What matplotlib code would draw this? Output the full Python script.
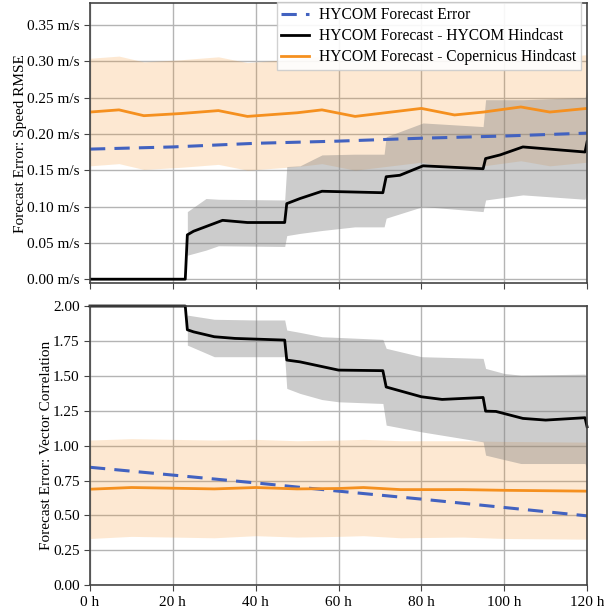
import matplotlib
matplotlib.use('Agg')
import matplotlib.pyplot as plt

plt.rcParams['font.family'] = ['Liberation Serif', 'DejaVu Serif']
plt.rcParams['font.size'] = 11

# ---- top panel: speed RMSE ----
hours_blue = [0, 20, 40, 60, 80, 100, 120]
rmse_blue = [0.179, 0.182, 0.187, 0.190, 0.194, 0.197, 0.201]

hours_black_rmse = [0, 23, 23.5, 25, 32, 38, 47, 47.5, 50.7, 56, 70.7, 71.5, 74.8, 80.4, 94.9, 95.5, 99, 104.5, 119.5, 120]
rmse_black = [0, 0, 0.061, 0.066, 0.081, 0.078, 0.078, 0.104, 0.111, 0.121, 0.119, 0.141, 0.143, 0.156, 0.152, 0.166, 0.171, 0.182, 0.175, 0.189]

hours_gray_rmse = [23.5, 28, 31, 47, 47.5, 50.7, 56, 63.9, 71, 71.5, 80.4, 94.9, 95.5, 104.5, 119.5, 120]
rmse_gray_hi = [0.093, 0.111, 0.110, 0.109, 0.155, 0.156, 0.171, 0.172, 0.172, 0.196, 0.215, 0.210, 0.247, 0.247, 0.250, 0.260]
rmse_gray_lo = [0.033, 0.040, 0.046, 0.045, 0.060, 0.063, 0.067, 0.072, 0.072, 0.084, 0.100, 0.093, 0.109, 0.116, 0.110, 0.120]

hours_orange_rmse = [0, 7, 13, 22, 31, 38, 50, 56, 64, 80, 88, 95, 104, 111, 120]
rmse_orange = [0.230, 0.233, 0.225, 0.228, 0.232, 0.224, 0.229, 0.233, 0.224, 0.235, 0.226, 0.230, 0.237, 0.230, 0.235]
rmse_orange_hi = [0.304, 0.307, 0.299, 0.302, 0.306, 0.298, 0.303, 0.307, 0.298, 0.309, 0.300, 0.304, 0.311, 0.304, 0.309]
rmse_orange_lo = [0.156, 0.159, 0.151, 0.154, 0.158, 0.150, 0.155, 0.159, 0.150, 0.161, 0.152, 0.156, 0.163, 0.156, 0.161]

# ---- bottom panel: vector correlation ----
vc_blue = [0.845, 0.789, 0.733, 0.674, 0.617, 0.557, 0.497]

hours_black_vc = [0, 23, 23.5, 25, 30, 35, 47, 47.5, 50.7, 60, 70.7, 71.5, 80, 85, 94.9, 95.5, 98, 104.5, 110, 119.5, 120]
vc_black = [2.0, 2.0, 1.83, 1.815, 1.78, 1.768, 1.756, 1.613, 1.60, 1.541, 1.537, 1.42, 1.35, 1.331, 1.345, 1.247, 1.245, 1.195, 1.183, 1.20, 1.135]

hours_gray_vc = [23.5, 30, 40, 47, 47.5, 50.7, 56, 60, 70.7, 71.5, 80, 94.9, 95.5, 100, 104, 119.5, 120]
vc_gray_hi = [1.935, 1.905, 1.90, 1.90, 1.828, 1.811, 1.78, 1.775, 1.761, 1.697, 1.637, 1.625, 1.553, 1.517, 1.505, 1.512, 1.48]
vc_gray_lo = [1.72, 1.637, 1.637, 1.637, 1.41, 1.374, 1.33, 1.314, 1.302, 1.147, 1.099, 1.027, 0.932, 0.90, 0.872, 0.872, 0.824]

hours_orange_vc = [0, 10, 20, 30, 40, 50, 60, 66, 75, 90, 100, 120]
vc_orange = [0.688, 0.700, 0.695, 0.690, 0.700, 0.690, 0.693, 0.700, 0.685, 0.685, 0.680, 0.674]
vc_orange_hi = [1.040, 1.050, 1.045, 1.040, 1.045, 1.035, 1.040, 1.045, 1.035, 1.035, 1.030, 1.025]
vc_orange_lo = [0.335, 0.350, 0.345, 0.340, 0.355, 0.345, 0.350, 0.355, 0.340, 0.345, 0.335, 0.330]

x_ticks = [0, 20, 40, 60, 80, 100, 120]
x_labels = ['0 h', '20 h', '40 h', '60 h', '80 h', '100 h', '120 h']
rmse_ticks = [0.0, 0.05, 0.10, 0.15, 0.20, 0.25, 0.30, 0.35]
vc_ticks = [0.0, 0.25, 0.5, 0.75, 1.0, 1.25, 1.5, 1.75, 2.0]

c_blue = '#4262c0'
c_orange = '#f5901f'
c_black = '#000000'

fig = plt.figure(figsize=(6.04, 6.09), dpi=100)
ax1 = fig.add_axes([0.149, 0.535, 0.823, 0.460])
ax2 = fig.add_axes([0.149, 0.039, 0.823, 0.4585])

def style_axis(ax):
    ax.set_xlim(0, 120)
    ax.set_xticks(x_ticks)
    ax.grid(True, color='#b4b4b4', linewidth=1.0)
    ax.set_axisbelow(True)
    for s in ax.spines.values():
        s.set_color('#444444')
        s.set_linewidth(1.2)
    ax.tick_params(direction='out', length=4, color='#444444', labelsize=11)

# top
ax1.fill_between(hours_orange_rmse, rmse_orange_lo, rmse_orange_hi, color=c_orange, alpha=0.2, linewidth=0)
ax1.fill_between(hours_gray_rmse, rmse_gray_lo, rmse_gray_hi, color='gray', alpha=0.4, linewidth=0)
ax1.plot(hours_blue, rmse_blue, color=c_blue, linestyle='--', dashes=(5, 3), linewidth=2.2, label='HYCOM Forecast Error')
ax1.plot(hours_black_rmse, rmse_black, color=c_black, linewidth=2.0, label='HYCOM Forecast - HYCOM Hindcast')
ax1.plot(hours_orange_rmse, rmse_orange, color=c_orange, linewidth=2.0, label='HYCOM Forecast - Copernicus Hindcast')
style_axis(ax1)
ax1.set_ylim(-0.0055, 0.38)
ax1.set_yticks(rmse_ticks)
ax1.set_yticklabels(['%.2f m/s' % v for v in rmse_ticks])
ax1.set_xticklabels([])
ax1.set_ylabel('Forecast Error: Speed RMSE', fontsize=11, labelpad=0)
ax1.legend(loc='upper right', bbox_to_anchor=(1.004, 1.03), fontsize=11.2, framealpha=0.9,
           edgecolor='#cccccc', fancybox=False, handlelength=1.8, handletextpad=0.65,
           borderpad=0.3, labelspacing=0.33)

# bottom
ax2.fill_between(hours_orange_vc, vc_orange_lo, vc_orange_hi, color=c_orange, alpha=0.2, linewidth=0)
ax2.fill_between(hours_gray_vc, vc_gray_lo, vc_gray_hi, color='gray', alpha=0.4, linewidth=0)
ax2.plot(hours_blue, vc_blue, color=c_blue, linestyle='--', dashes=(5, 3), linewidth=2.2)
ax2.plot(hours_black_vc, vc_black, color=c_black, linewidth=2.0, clip_on=False)
ax2.plot(hours_orange_vc, vc_orange, color=c_orange, linewidth=2.0)
style_axis(ax2)
ax2.set_ylim(0, 2.0)
ax2.set_yticks(vc_ticks)
ax2.set_yticklabels(['%.2f' % v for v in vc_ticks])
ax2.set_xticklabels(x_labels)
ax2.set_ylabel('Forecast Error: Vector Correlation', fontsize=11, labelpad=0)

plt.savefig('out.png', dpi=100)
